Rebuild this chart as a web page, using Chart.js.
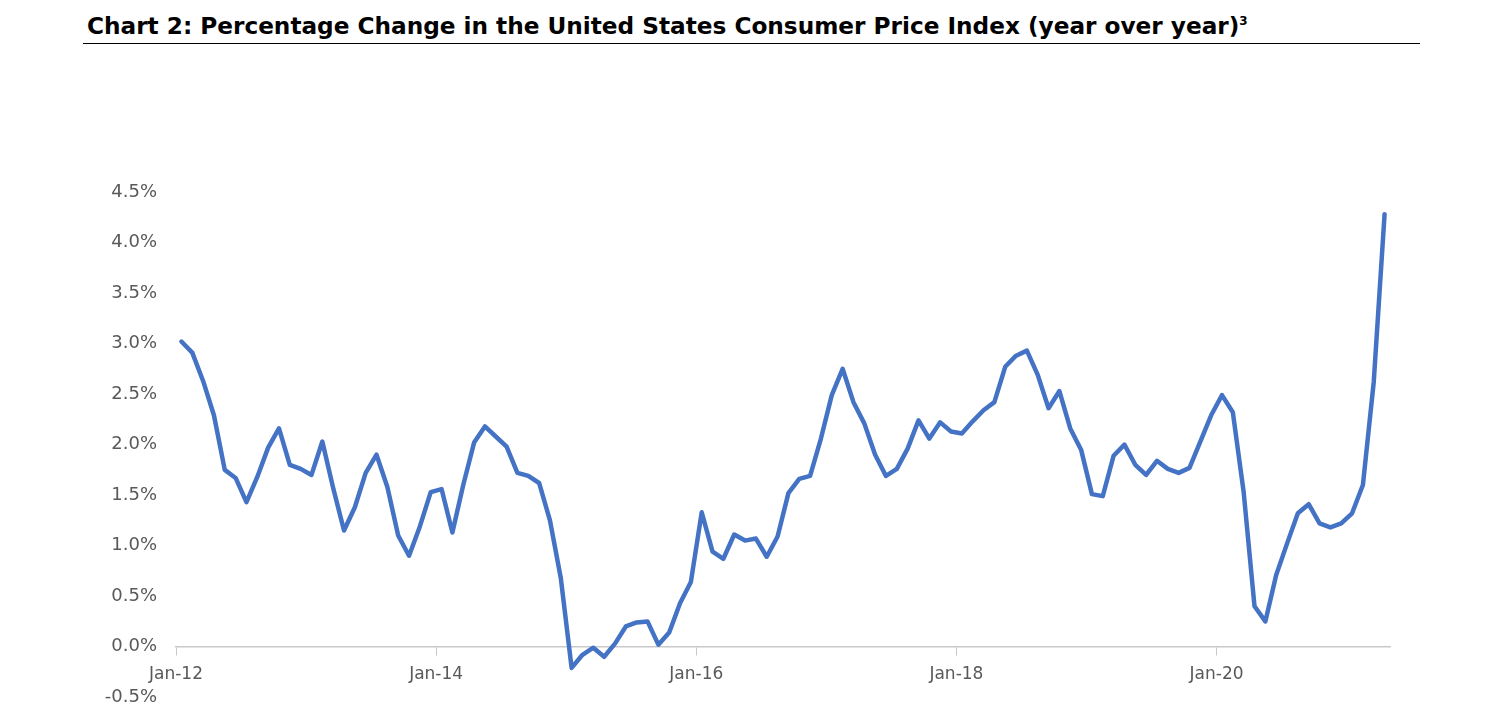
<!DOCTYPE html>
<html>
<head>
<meta charset="utf-8">
<script src="https://cdn.jsdelivr.net/npm/chart.js@4/dist/chart.umd.min.js"></script>
<style>
  html, body { margin: 0; padding: 0; background: #fff; }
  #wrap { position: relative; width: 1498px; height: 715px; overflow: hidden; }
  #title {
    position: absolute; left: 83px; top: 0; width: 1333px; height: 43px;
    padding-left: 4px; border-bottom: 1px solid #000;
    font-family: "DejaVu Sans", sans-serif; font-weight: bold; font-size: 23.2px;
    line-height: 52px; color: #000; white-space: nowrap;
  }
  #title sup { font-size: 12px; vertical-align: 9px; line-height: 0; }
  canvas { position: absolute; left: 0; top: 0; }
</style>
</head>
<body>
<div id="wrap">
  <div id="title">Chart 2: Percentage Change in the United States Consumer Price Index (year over year)<sup>3</sup></div>
  <canvas id="myChart" width="1498" height="719"></canvas>
</div>
<script>
// monthly CPI change, Jan-12 .. Apr-21 (percent)
var cpi2012 = [3.02, 2.91, 2.63, 2.29, 1.75, 1.67, 1.43, 1.68, 1.97, 2.16, 1.80, 1.76];
var cpi2013 = [1.70, 2.03, 1.57, 1.15, 1.38, 1.72, 1.90, 1.58, 1.10, 0.90, 1.19, 1.53];
var cpi2014 = [1.56, 1.13, 1.60, 2.02, 2.18, 2.08, 1.98, 1.72, 1.69, 1.62, 1.25, 0.68];
var cpi2015 = [-0.21, -0.08, -0.01, -0.10, 0.03, 0.20, 0.24, 0.25, 0.02, 0.14, 0.43, 0.64];
var cpi2016 = [1.33, 0.94, 0.87, 1.11, 1.05, 1.07, 0.89, 1.09, 1.52, 1.66, 1.69, 2.06];
var cpi2017 = [2.49, 2.75, 2.42, 2.21, 1.90, 1.69, 1.76, 1.96, 2.24, 2.06, 2.22, 2.13];
var cpi2018 = [2.11, 2.23, 2.34, 2.42, 2.77, 2.88, 2.93, 2.69, 2.36, 2.53, 2.16, 1.95];
var cpi2019 = [1.51, 1.49, 1.89, 2.00, 1.80, 1.70, 1.84, 1.76, 1.72, 1.77, 2.03, 2.29];
var cpi2020 = [2.49, 2.32, 1.53, 0.40, 0.25, 0.71, 1.02, 1.32, 1.41, 1.22, 1.18, 1.22];
var cpi2021 = [1.32, 1.60, 2.62, 4.28];

var years = ["12", "13", "14", "15", "16", "17", "18", "19", "20", "21"];
var monthNames = ["Jan", "Feb", "Mar", "Apr", "May", "Jun", "Jul", "Aug", "Sep", "Oct", "Nov", "Dec"];

var cpiValues = [].concat(cpi2012, cpi2013, cpi2014, cpi2015, cpi2016,
  cpi2017, cpi2018, cpi2019, cpi2020, cpi2021);

var monthLabels = [];
years.forEach((yy) => monthNames.forEach((m) => monthLabels.push(m + "-" + yy)));

// each month sits in the middle of its slot, ticks fall on slot borders
var points = cpiValues.map((v, i) => ({ x: i + 0.5, y: v }));

var labelColor = "#595959";
var axisColor = "#c9c9c9";

var ctx = document.getElementById("myChart").getContext("2d");
var myChart = new Chart(ctx, {
  type: "line",
  data: {
    datasets: [
      {
        label: "CPI",
        data: points,
        borderColor: "#4472C4",
        borderWidth: 4.5,
        pointRadius: 0,
        tension: 0,
        borderJoinStyle: "round",
        borderCapStyle: "round",
        fill: false,
      },
    ],
  },
  options: {
    responsive: false,
    animation: false,
    devicePixelRatio: 1,
    layout: {
      padding: { left: 70, right: 108, top: 192, bottom: 3 },
    },
    plugins: {
      legend: { display: false },
      tooltip: { enabled: false },
    },
    scales: {
      x: {
        type: "linear",
        position: { y: 0 },
        min: 0,
        max: cpiValues.length,
        grid: {
          drawOnChartArea: false,
          drawTicks: true,
          tickLength: 8,
          color: axisColor,
        },
        border: { display: true, color: axisColor, width: 1.5 },
        ticks: {
          stepSize: 24,
          includeBounds: false,
          autoSkip: false,
          maxRotation: 0,
          padding: 10,
          color: labelColor,
          font: { family: "DejaVu Sans", size: 17 },
          callback: (v) => monthLabels[v] || "",
        },
      },
      y: {
        min: -0.5,
        max: 4.5,
        grid: { display: false },
        border: { display: false },
        ticks: {
          stepSize: 0.5,
          padding: 11,
          color: labelColor,
          font: { family: "DejaVu Sans", size: 18 },
          callback: (v) => v.toFixed(1) + "%",
        },
        afterFit: (scale) => {
          scale.width = 106;
        },
      },
    },
  },
});
</script>
</body>
</html>
